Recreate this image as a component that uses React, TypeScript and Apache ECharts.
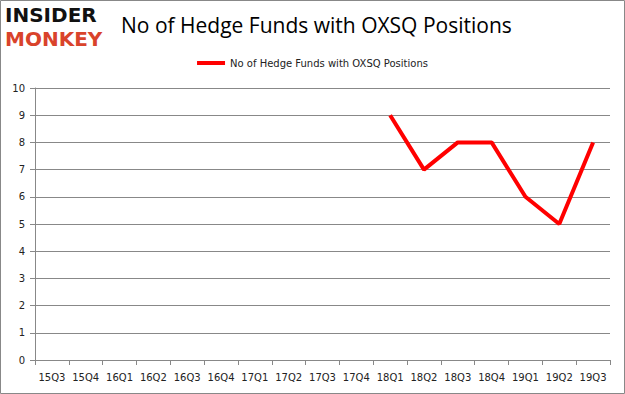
import React, { useEffect, useRef } from "react";
import * as echarts from "echarts";

const categories = ["15Q3","15Q4","16Q1","16Q2","16Q3","16Q4","17Q1","17Q2","17Q3","17Q4","18Q1","18Q2","18Q3","18Q4","19Q1","19Q2","19Q3"];
const values: (number | null)[] = [null,null,null,null,null,null,null,null,null,null,9,7,8,8,6,5,8];
const seriesName = "No of Hedge Funds with OXSQ Positions";
const titleText = "No of Hedge Funds with OXSQ Positions";

export default function App() {
  const ref = useRef<HTMLDivElement>(null);
  useEffect(() => {
    const chart = echarts.init(ref.current!, null, { renderer: "svg" });
    chart.setOption({
      animation: false,
      backgroundColor: "#fff",
      title: {
        text: titleText,
        left: 116,
        top: 9,
        textStyle: { fontFamily: "Open Sans", fontSize: 21, fontWeight: "normal", color: "#000" },
      },
      legend: {
        top: 53,
        left: "center",
        itemWidth: 28,
        itemHeight: 4,
        icon: "rect",
        data: [seriesName],
        textStyle: { fontFamily: "DejaVu Sans", fontSize: 10, color: "#222" },
      },
      grid: { left: 35, right: 15, top: 88, bottom: 34 },
      xAxis: {
        type: "category",
        data: categories,
        boundaryGap: true,
        axisLine: { lineStyle: { color: "#888" } },
        axisTick: { show: true, alignWithLabel: false, length: 5, lineStyle: { color: "#888" } },
        axisLabel: { fontFamily: "DejaVu Sans", fontSize: 10, color: "#222", margin: 12, interval: 0 },
      },
      yAxis: {
        type: "value",
        min: 0,
        max: 10,
        interval: 1,
        axisLine: { show: true, lineStyle: { color: "#888" } },
        axisTick: { show: true, length: 5, lineStyle: { color: "#888" } },
        splitLine: { lineStyle: { color: "#888" } },
        axisLabel: { fontFamily: "DejaVu Sans", fontSize: 10, color: "#222", margin: 10 },
      },
      series: [
        {
          name: seriesName,
          type: "line",
          data: values,
          symbol: "none",
          lineStyle: { color: "#ff0000", width: 4 },
          itemStyle: { color: "#ff0000" },
        },
      ],
      graphic: [
        {
          type: "rect",
          shape: { x: 0.5, y: 0.5, width: 624, height: 393 },
          style: { fill: "none", stroke: "#888", lineWidth: 1 },
          silent: true,
        },
        {
          type: "text",
          x: 5,
          y: 5,
          style: { text: "INSIDER", font: "bold 20px 'DejaVu Sans'", fill: "#111" },
        },
        {
          type: "text",
          x: 5,
          y: 29,
          style: { text: "MONKEY", font: "bold 20px 'DejaVu Sans'", fill: "#d9432b" },
        },
      ],
    });
    return () => chart.dispose();
  }, []);
  return <div ref={ref} style={{ position: "absolute", left: 0, top: 0, width: 625, height: 394 }} />;
}
